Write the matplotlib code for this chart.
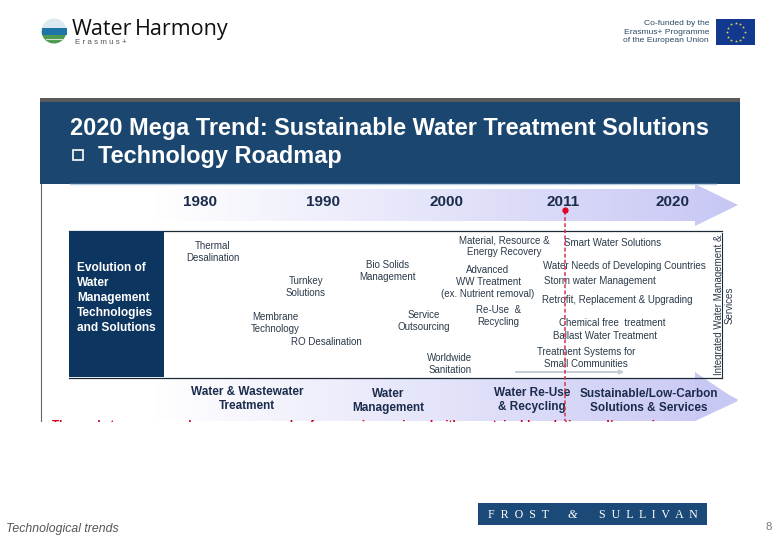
import numpy as np
import matplotlib
matplotlib.use("Agg")
import matplotlib.pyplot as plt
from matplotlib.patches import Rectangle, Polygon, Wedge

plt.rcParams['font.family'] = ['Liberation Sans', 'DejaVu Sans']

# text content
title_lines = ["2020 Mega Trend: Sustainable Water Treatment Solutions", "Technology Roadmap"]
years = ["1980", "1990", "2000", "2011", "2020"]
side_label = "Evolution of\nWater\nManagement\nTechnologies\nand Solutions"
tech_items = ["Thermal\nDesalination", "Turnkey\nSolutions", "Membrane\nTechnology", "RO Desalination",
              "Bio Solids\nManagement", "Service\nOutsourcing", "Worldwide\nSanitation",
              "Material, Resource &\nEnergy Recovery", "Advanced\nWW Treatment\n(ex. Nutrient removal)",
              "Re-Use  &\nRecycling", "Smart Water Solutions", "Water Needs of Developing Countries",
              "Storm water Management", "Retrofit, Replacement & Upgrading", "Chemical free  treatment",
              "Ballast Water Treatment", "Treatment Systems for\nSmall Communities"]
phases = ["Water & Wastewater\nTreatment", "Water\nManagement", "Water Re-Use\n& Recycling",
          "Sustainable/Low-Carbon\nSolutions & Services"]
red_note = "The market message and response \u2013 sample of companies equipped with a sustainable solution and/or service"
side_note = "Integrated Water Management &"
side_note2 = "Services"
footer = "Technological trends"
page_no = "8"

NAVY = "#1a466f"
DARK = "#0c3560"
TXT = "#2b3a4a"

fig = plt.figure(figsize=(7.8, 5.4), dpi=100)
ax = fig.add_axes([0, 0, 1, 1])
ax.set_xlim(0, 780)
ax.set_ylim(540, 0)
ax.axis("off")


def gradient_arrow(x0, x1, tip, y0, y1, head_pad):
    mid = (y0 + y1) / 2
    pts = [(x0, y0), (x1, y0), (x1, y0 - head_pad), (tip, mid), (x1, y1 + head_pad), (x1, y1), (x0, y1)]
    poly = Polygon(pts, closed=True, fc="none", ec="none")
    ax.add_patch(poly)
    grad = np.linspace(0, 1, 256).reshape(1, -1, 1)
    c0 = np.array([1, 1, 1]).reshape(1, 1, 3)
    c1 = np.array([0.78, 0.78, 0.96]).reshape(1, 1, 3)
    im = ax.imshow(c0 + (c1 - c0) * grad, extent=(x0, tip, y1 + head_pad, y0 - head_pad),
                   aspect="auto", zorder=1)
    im.set_clip_path(poly)


# Logo top left (y axis is inverted, so the wedge angles are flipped)
ax.add_patch(Wedge((54, 31), 12.5, 180, 360, fc="#dbe9f1", ec="none", zorder=1))
ax.add_patch(Wedge((54, 31), 12.5, 0, 180, fc="#4d9a52", ec="none", zorder=1))
ax.add_patch(Rectangle((41.5, 28), 25, 7, fc="#1f74a8", ec="none", zorder=2))
ax.plot([46, 62], [38.5, 38.5], color="#cfe3c8", lw=0.8, zorder=3)
ax.text(72, 29.5, "Water", fontsize=15.5, color="#111111", va="center", ha="left", family="Open Sans")
ax.text(135, 29.5, "Harmony", fontsize=15.5, color="#111111", va="center", ha="left", family="Open Sans")
ax.text(75, 43, "E r a s m u s +", fontsize=5.8, color="#555555", va="center", ha="left")

# Co-funded block top right
ax.text(709, 32, "Co-funded by the\nErasmus+ Programme\nof the European Union", fontsize=6.1,
        color="#2c4a66", ha="right", va="center", linespacing=1.32)
ax.add_patch(Rectangle((716, 19), 39, 26, fc="#12398e", ec="none"))
for ang in np.arange(0, 360, 30):
    ax.plot(735.5 + 9 * np.cos(np.radians(ang)), 32 + 9 * np.sin(np.radians(ang)), marker="*",
            ms=2.2, color="#e8d84a", mew=0)

# Slide picture
ax.add_patch(Rectangle((40, 98), 700, 4, fc="#5a5a5a", ec="none"))
ax.add_patch(Rectangle((40, 102), 700, 82, fc=NAVY, ec="none"))
ax.plot([40.5, 40.5], [184, 421], color="#666666", lw=0.8)
ax.text(70, 128, title_lines[0], fontsize=16.9, fontweight="bold", color="white", va="center")
ax.add_patch(Rectangle((73, 150), 10, 9.5, fc="none", ec="white", lw=1.2))
ax.text(98, 156, title_lines[1], fontsize=16.9, fontweight="bold", color="white", va="center")
ax.plot([70, 716], [184, 184], color="#b9cfe2", lw=1)

# Timeline arrow
gradient_arrow(155, 695, 738, 189, 221, 5)
year_x = [200, 323, 446, 563, 672]
for label, x in zip(years, year_x):
    ax.text(x, 201.5, label, fontsize=11, fontweight="bold", color="#1b2c4c", ha="center", va="center", zorder=3)

# Body box
ax.plot([69, 722], [230.5, 230.5], color="#1a2a36", lw=0.9, zorder=2)
ax.plot([69, 722], [377.5, 377.5], color="#1a2a36", lw=0.9, zorder=2)
ax.add_patch(Rectangle((69, 231), 95, 146, fc=DARK, ec="none", zorder=2))
ax.text(77, 298, side_label, fontsize=8.6, fontweight="bold", color="white", va="center", ha="left",
        linespacing=1.36, zorder=3)

item_xy = [(213, 252), (306, 287), (275, 323), (326, 342), (388, 271), (424, 321), (450, 364),
           (504, 246), (488, 282), (498, 316), (613, 243), (624, 266), (600, 281), (617, 300),
           (612, 323), (605, 336), (586, 358)]
for label, (x, y) in zip(tech_items, item_xy):
    ax.text(x, y, label, fontsize=7.0, color=TXT, ha="center", va="center", linespacing=1.22, zorder=3)

ax.text(718.5, 305, side_note, fontsize=7.0, color=TXT, rotation=90, ha="center", va="center", zorder=3)
ax.text(730, 305, side_note2, fontsize=7.0, color=TXT, rotation=90, ha="center", va="center", zorder=3)
ax.plot([721.5, 721.5], [233, 377], color="#1a2a36", lw=0.8, zorder=2)
ax.annotate("", xy=(627, 372), xytext=(513, 372), zorder=3,
            arrowprops=dict(arrowstyle="-|>", color="#c4ccd6", lw=1.4, mutation_scale=6))

# Lower arrow, cut at the crop line
clip_box = Rectangle((0, 0), 780, 421.5, transform=ax.transData)
gradient_arrow(155, 695, 738, 378, 421, 0)
ax.add_patch(Polygon([(695, 372), (738, 401), (695, 421)], closed=True, fc="#c8c8f5", ec="none", zorder=1))
phase_xy = [(247, 399), (388, 401), (532, 400), (649, 401)]
for label, (x, y) in zip(phases, phase_xy):
    ax.text(x, y, label, fontsize=8.45, fontweight="bold", color="#1b2c4c", ha="center", va="center",
            linespacing=1.25, zorder=3)

note = ax.text(52, 425.5, red_note, fontsize=8.35, fontweight="bold", color="#d0021b", va="center",
               zorder=4, clip_on=True)
note.set_clip_path(clip_box)

# 2011 marker
ax.plot([565, 565], [211, 421], color="#d9324f", lw=1.1, ls=(0, (2.5, 1.5)), zorder=4)
ax.plot([565], [210], marker="o", ms=4.5, color="#e0002a", mew=0, zorder=5)

# Footer
ax.add_patch(Rectangle((478, 503), 229, 22, fc="#1c4a78", ec="none"))
ax.text(518.5, 514.5, "F  R  O  S  T", fontsize=8.6, color="white", ha="center", va="center",
        family="Liberation Serif")
ax.text(572, 514.5, "&", fontsize=9, color="white", ha="center", va="center", style="italic",
        family="Liberation Serif")
ax.text(648.5, 514.5, "S  U  L  L  I  V  A  N", fontsize=8.6, color="white", ha="center", va="center",
        family="Liberation Serif")
ax.text(6, 529, footer, fontsize=8.8, color="#555555", style="italic", va="center")
ax.text(769, 527.5, page_no, fontsize=8.2, color="#777777", ha="center", va="center")

ax.set_xlim(0, 780)
ax.set_ylim(540, 0)
fig.savefig("out.png", dpi=100)
